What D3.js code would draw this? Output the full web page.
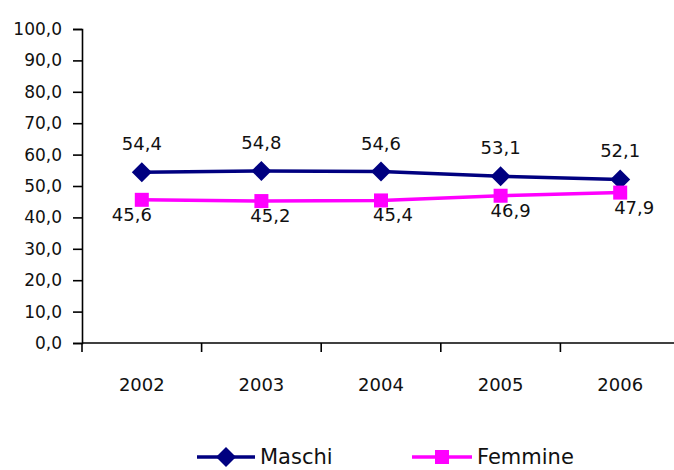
<!DOCTYPE html>
<html>
<head>
<meta charset="utf-8">
<script src="https://cdn.jsdelivr.net/npm/d3@7"></script>
<style>
    body { margin: 0; background: #fff; }
    svg { font-family: "DejaVu Sans", sans-serif; }
</style>
</head>
<body>
<div id="chart"></div>
<script>
const years = ["2002", "2003", "2004", "2005", "2006"];
const maschi = [54.4, 54.8, 54.6, 53.1, 52.1];
const femmine = [45.6, 45.2, 45.4, 46.9, 47.9];
const yTicks = [0, 10, 20, 30, 40, 50, 60, 70, 80, 90, 100];

(function () {
    const width = 674, height = 470;
    const margin = { left: 82, right: -6, top: 29, bottom: 127 };
    const fmt = v => v.toFixed(1).replace(".", ",");
    // small nudges for the lower labels, as in the original
    const femDx = [-10, 9, 12, 10, 14];

    const svg = d3.select("#chart")
        .append("svg")
        .attr("width", width)
        .attr("height", height);

    const x = d3.scaleBand()
        .domain(years)
        .range([margin.left, width - margin.right]);
    const y = d3.scaleLinear()
        .domain([0, 100])
        .range([height - margin.bottom, margin.top]);

    // y axis
    svg.append("g")
        .attr("transform", `translate(${margin.left},0)`)
        .call(d3.axisLeft(y).tickValues(yTicks).tickSize(9).tickPadding(11).tickFormat(fmt))
        .call(g => {
            g.select(".domain").attr("stroke-width", 1.6);
            g.selectAll(".tick line").attr("stroke-width", 1.6);
            g.selectAll("text").attr("font-size", 17).attr("fill", "#111")
                .attr("font-family", "DejaVu Sans");
        });

    // x axis, ticks between categories
    const y0 = y(0);
    const xa = svg.append("g");
    xa.append("line")
        .attr("x1", margin.left).attr("x2", width)
        .attr("y1", y0).attr("y2", y0)
        .attr("stroke", "#000").attr("stroke-width", 1.6);
    xa.selectAll("line.tk")
        .data(years)
        .join("line")
        .attr("class", "tk")
        .attr("x1", d => x(d)).attr("x2", d => x(d))
        .attr("y1", y0).attr("y2", y0 + 9)
        .attr("stroke", "#000").attr("stroke-width", 1.6);
    xa.selectAll("text")
        .data(years)
        .join("text")
        .attr("x", d => x(d) + x.bandwidth() / 2)
        .attr("y", y0 + 48)
        .attr("text-anchor", "middle")
        .attr("font-size", 18)
        .attr("fill", "#111")
        .text(d => d);

    const cx = d => x(d) + x.bandwidth() / 2;
    const series = [
        { name: "Maschi", values: maschi, color: "#000080" },
        { name: "Femmine", values: femmine, color: "#ff00ff" }
    ];

    const line = d3.line()
        .x((d, i) => cx(years[i]))
        .y(d => y(d));

    series.forEach(s => {
        svg.append("path")
            .datum(s.values)
            .attr("fill", "none")
            .attr("stroke", s.color)
            .attr("stroke-width", 3.5)
            .attr("d", line);
    });

    const diamond = (g, px, py) => g.append("path")
        .attr("d", `M${px},${py - 10}L${px + 10},${py}L${px},${py + 10}L${px - 10},${py}Z`);
    const square = (g, px, py) => g.append("rect")
        .attr("x", px - 7).attr("y", py - 7).attr("width", 14).attr("height", 14);

    // markers
    const mk = svg.append("g");
    maschi.forEach((v, i) => diamond(mk, cx(years[i]), y(v)).attr("fill", "#000080"));
    femmine.forEach((v, i) => square(mk, cx(years[i]), y(v)).attr("fill", "#ff00ff"));

    // data labels
    svg.append("g")
        .selectAll("text")
        .data(maschi)
        .join("text")
        .attr("x", (d, i) => cx(years[i]))
        .attr("y", d => y(d) - 22)
        .attr("text-anchor", "middle")
        .attr("font-size", 18)
        .attr("fill", "#111")
        .text(fmt);
    svg.append("g")
        .selectAll("text")
        .data(femmine)
        .join("text")
        .attr("x", (d, i) => cx(years[i]) + femDx[i])
        .attr("y", d => y(d) + 21)
        .attr("text-anchor", "middle")
        .attr("font-size", 18)
        .attr("fill", "#111")
        .text(fmt);

    // legend
    const lg = svg.append("g");
    const ly = 457;
    [[197, 255, "Maschi"], [412, 472, "Femmine"]].forEach(([a, b, name], k) => {
        const s = series[k];
        lg.append("line")
            .attr("x1", a).attr("x2", b)
            .attr("y1", ly).attr("y2", ly)
            .attr("stroke", s.color).attr("stroke-width", 3.5);
        const m = (a + b) / 2;
        (k === 0 ? diamond(lg, m, ly) : square(lg, m, ly)).attr("fill", s.color);
        lg.append("text")
            .attr("x", b + 5)
            .attr("y", ly + 7)
            .attr("font-size", 21)
            .attr("fill", "#111")
            .text(name);
    });
})();
</script>
</body>
</html>
